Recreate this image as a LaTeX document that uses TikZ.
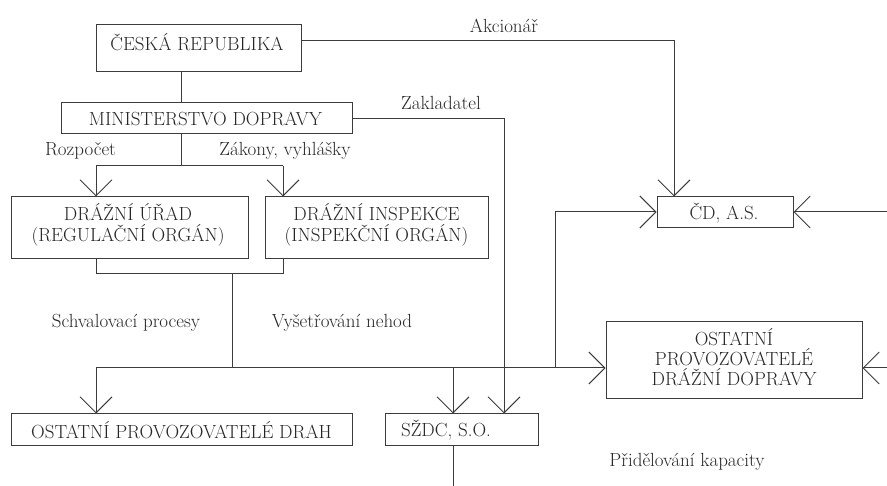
\documentclass[tikz,border=0pt]{standalone}
\usepackage{fontspec}
\usetikzlibrary{arrows.meta}
\definecolor{ln}{HTML}{3C3C3C}
\begin{document}
\begin{tikzpicture}[x=1pt,y=-1pt,
  font=\fontsize{19}{21.5}\selectfont,
  box/.style={draw=ln,line width=1pt,inner sep=0pt},
  txt/.style={inner sep=0pt,align=center,text=black!85},
  conn/.style={draw=ln,line width=1pt},
  arr/.style={conn,-{Straight Barb[length=16pt,width=32pt,line width=1pt]}}]
\useasboundingbox (0,0) rectangle (887,486);
% boxes
\node[box,minimum width=205,minimum height=47] (cr) at (198.5,48.5) {};
\node[txt] (crt) at (197,42) {ČESKÁ REPUBLIKA};
\node[box,minimum width=291,minimum height=31] (md) at (206.5,118.5) {};
\node[txt] (mdt) at (205.5,119) {MINISTERSTVO DOPRAVY};
\node[box,minimum width=237,minimum height=62] (du) at (129.5,228) {};
\node[txt] (dut) at (128,225) {DRÁŽNÍ ÚŘAD\\(REGULAČNÍ ORGÁN)};
\node[box,minimum width=223,minimum height=62] (di) at (376.5,228) {};
\node[txt] (dit) at (376.5,225) {DRÁŽNÍ INSPEKCE\\(INSPEKČNÍ ORGÁN)};
\node[box,minimum width=136,minimum height=31] (cd) at (725,212.5) {};
\node[txt] (cdt) at (724,213) {ČD, A.S.};
\node[box,minimum width=256,minimum height=77] (op) at (734,360.5) {};
\node[txt,font=\fontsize{19}{20}\selectfont] (opt) at (734,357) {OSTATNÍ\\PROVOZOVATELÉ\\DRÁŽNÍ DOPRAVY};
\node[box,minimum width=341,minimum height=32] (od) at (181.5,430) {};
\node[txt] (odt) at (181.5,430.5) {OSTATNÍ PROVOZOVATELÉ DRAH};
\node[box,minimum width=153,minimum height=32] (sz) at (461.5,430) {};
\node[txt] (szt) at (446,430.5) {SŽDC, S.O.};
% labels
\node[txt] (l1) at (504,26) {Akcionář};
\node[txt] (l2) at (441,103) {Zakladatel};
\node[txt] (l3) at (80.5,151) {Rozpočet};
\node[txt] (l4) at (285,151) {Zákony, vyhlášky};
\node[txt] (l5) at (126,323) {Schvalovací procesy};
\node[txt] (l6) at (342,323) {Vyšetřování nehod};
\node[txt] (l7) at (687,462) {Přidělování kapacity};
% coordinates
\coordinate (a1) at (674,41);
\coordinate (jx) at (181,0);
\coordinate (z1) at (504,119);
\coordinate (m1) at (181,166);
\coordinate (m2) at (96,166);
\coordinate (m3) at (283,166);
\coordinate (b1) at (96,274);
\coordinate (b2) at (283,274);
\coordinate (b3) at (232,274);
\coordinate (h0) at (232,368);
\coordinate (h1) at (96,368);
\coordinate (h2) at (453,368);
\coordinate (h3) at (555,368);
\coordinate (v1) at (555,212);
\coordinate (r1) at (887,212);
\coordinate (r2) at (887,368);
\coordinate (s1) at (453,486);
% connectors
\draw[arr] (cr.east |- a1) -- (a1) -- (cd.north -| a1);
\draw[conn] (cr.south -| jx) -- (md.north -| jx);
\draw[arr] (md.east |- z1) -- (z1) -- (sz.north -| z1);
\draw[conn] (md.south -| jx) -- (m1);
\draw[conn] (m2) -- (m3);
\draw[arr] (m2) -- (du.north -| m2);
\draw[arr] (m3) -- (di.north -| m3);
\draw[conn] (du.south -| b1) -- (b1) -- (b2) -- (di.south -| b2);
\draw[conn] (b3) -- (h0);
\draw[arr] (h1) -- (op.west |- h1);
\draw[arr] (h1) -- (od.north -| h1);
\draw[arr] (h2) -- (sz.north -| h2);
\draw[arr] (h3) -- (v1) -- (cd.west |- v1);
\draw[arr] (r1) -- (cd.east |- r1);
\draw[arr] (r2) -- (op.east |- r2);
\draw[conn] (sz.south -| s1) -- (s1);
\end{tikzpicture}
\end{document}
